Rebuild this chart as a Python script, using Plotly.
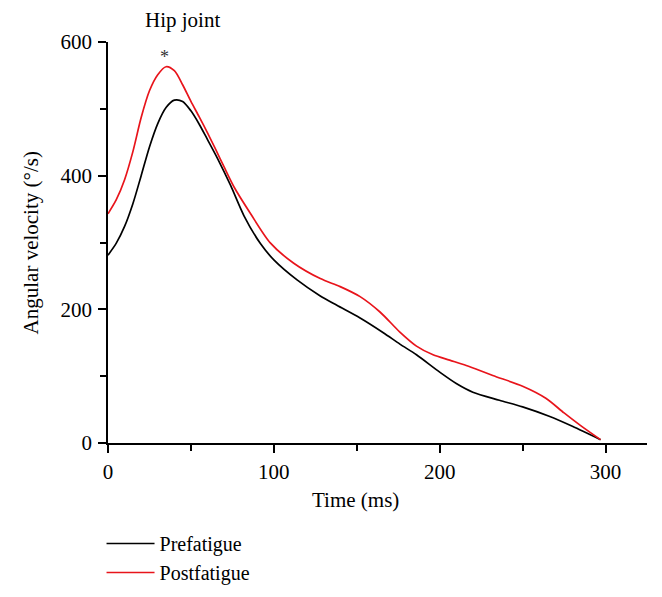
import plotly.graph_objects as go

# Prefatigue (black)
pre_t = [0, 5, 10, 15, 20, 25, 30, 35, 40, 45, 50, 55, 60, 66, 74, 82, 92, 100,
         114, 128, 138, 152, 166, 176, 186, 200, 210, 220, 236, 250, 266, 280, 297]
pre_v = [281, 299, 324, 358, 400, 443, 478, 502, 513, 511, 497, 477, 454, 426, 385, 340, 298, 274,
         244, 220, 206, 187, 165, 148, 132, 106, 89, 76, 64, 54, 40, 25, 5]

# Postfatigue (red)
post_t = [0, 5, 10, 15, 20, 25, 30, 35, 40, 45, 50, 55, 60, 65, 70, 76, 86, 98,
          112, 128, 140, 152, 164, 176, 186, 196, 206, 216, 232, 250, 264, 275, 285, 297]
post_v = [343, 364, 394, 436, 487, 527, 551, 563, 557, 536, 511, 488, 464, 439, 413, 383, 343, 299,
          269, 246, 234, 219, 196, 166, 145, 132, 124, 116, 101, 85, 67, 45, 26, 5]

FONT = "Liberation Serif"
BLACK = "black"

fig = go.Figure()
fig.add_trace(go.Scatter(x=pre_t, y=pre_v, mode="lines", name="Prefatigue",
                         line=dict(color=BLACK, width=1.7, shape="spline", smoothing=0.8)))
fig.add_trace(go.Scatter(x=post_t, y=post_v, mode="lines", name="Postfatigue",
                         line=dict(color="#e8141b", width=1.7, shape="spline", smoothing=0.8)))

axis_common = dict(
    showline=True, linecolor=BLACK, linewidth=1.5,
    ticks="outside", ticklen=8, tickwidth=1.5, tickcolor=BLACK,
    showgrid=False, zeroline=False, automargin=False,
    tickfont=dict(family=FONT, size=21, color=BLACK),
)

fig.update_xaxes(range=[0, 325], dtick=100, tick0=0, ticklabelstandoff=1,
                 minor=dict(ticks="outside", ticklen=6, tickwidth=1.5, tickcolor=BLACK, dtick=50),
                 **axis_common)
fig.update_yaxes(range=[0, 600], dtick=200, tick0=0, ticklabelstandoff=2,
                 minor=dict(ticks="outside", ticklen=6, tickwidth=1.5, tickcolor=BLACK, dtick=100),
                 **axis_common)

txt = dict(family=FONT, size=21, color=BLACK)
mid = dict(showarrow=False, xanchor="center", yanchor="middle")
fig.add_annotation(text="Hip joint", x=45, y=1.056, xref="x", yref="paper", font=txt, **mid)
fig.add_annotation(text="*", x=34, y=0.963, xref="x", yref="paper",
                   font=dict(family=FONT, size=18, color="#333333"), **mid)
fig.add_annotation(text="Time (ms)", x=149, y=-0.141, xref="x", yref="paper", font=txt, **mid)
fig.add_annotation(text="Angular velocity (°/s)", x=-0.143, y=0.5, xref="paper", yref="paper",
                   textangle=-90, font=txt, **mid)

# page body adds 8px, so margins are shifted by that
fig.update_layout(
    width=662, height=597,
    margin=dict(l=100, r=23, t=34, b=162),
    plot_bgcolor="white", paper_bgcolor="white",
    showlegend=True,
    legend=dict(x=-0.012, y=-0.202, xanchor="left", yanchor="top",
                font=dict(family=FONT, size=20, color=BLACK),
                bgcolor="rgba(0,0,0,0)", itemwidth=48),
)

fig.write_html("out.html")
